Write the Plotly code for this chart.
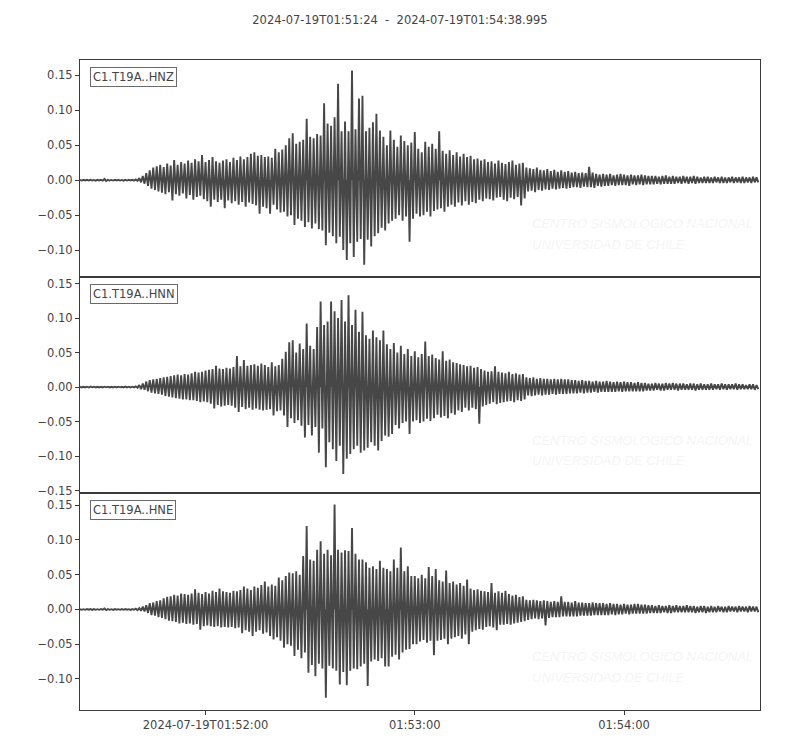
"""
Three-component strong-motion record, station C1.T19A (HNZ / HNN / HNE).

Amplitudes are stored as the peak (max / min) reached in consecutive
1-second windows, in units of 1e-3, read off the plotted record.
"""
import pandas as pd
import plotly.graph_objects as go
from plotly.subplots import make_subplots

START = "2024-07-19T01:51:24"
END = "2024-07-19T01:54:38.995"
BIN_SECONDS = 1

CHANNELS = ["C1.T19A..HNZ", "C1.T19A..HNN", "C1.T19A..HNE"]

hnz_max = [
    0.4, 0.5, 0.5, 0.6, 0.4, 0.5, 0.5, 2, 0.5, 0.4,
    0.5, 0.6, 0.4, 0.5, 0.5, 0.6, 1, 3, 6, 10,
    14, 18, 20, 22, 19, 24, 21, 29, 22, 26,
    24, 28, 25, 30, 27, 36, 26, 29, 33, 27,
    25, 28, 30, 26, 32, 29, 34, 30, 33, 38,
    40, 35, 36, 33, 34, 32, 45, 40, 44, 50,
    60, 67, 52, 55, 58, 88, 62, 60, 66, 64,
    110, 81, 78, 90, 138, 70, 84, 70, 157, 73,
    117, 121, 70, 75, 83, 95, 71, 62, 50, 71,
    58, 48, 64, 56, 50, 54, 69, 45, 40, 55,
    48, 52, 45, 70, 42, 38, 43, 36, 40, 34,
    38, 33, 35, 30, 31, 28, 30, 26, 27, 24,
    28, 25, 23, 26, 28, 22, 24, 25, 18, 17,
    16, 18, 15, 14, 16, 13, 15, 12, 14, 12,
    13, 11, 12, 10, 11, 10, 19, 11, 9, 8,
    9, 8, 9, 7, 8, 9, 8, 7, 8, 7,
    7, 8, 7, 6, 6, 6, 5, 6, 7, 5,
    6, 5, 5, 6, 5, 5, 6, 5, 4, 5,
    5, 4, 5, 4, 5, 4, 4, 5, 4, 4,
    5, 4, 4, 5, 4,
]
hnz_min = [
    -0.5, -0.4, -0.5, -0.5, -0.6, -0.4, -0.5, -1, -0.5, -0.5,
    -0.4, -0.5, -0.6, -0.5, -0.4, -0.5, -1, -3, -5, -8,
    -12, -14, -16, -18, -20, -17, -29, -20, -22, -19,
    -26, -21, -28, -24, -22, -27, -30, -38, -28, -31,
    -28, -40, -29, -33, -30, -35, -31, -38, -32, -34,
    -36, -48, -38, -40, -48, -35, -42, -46, -45, -52,
    -50, -64, -55, -58, -67, -60, -69, -62, -70, -72,
    -93, -75, -80, -90, -81, -100, -114, -90, -110, -88,
    -84, -121, -85, -95, -80, -76, -68, -72, -62, -58,
    -55, -50, -58, -52, -88, -55, -48, -52, -50, -45,
    -52, -44, -42, -40, -45, -38, -35, -38, -32, -36,
    -30, -35, -31, -33, -28, -30, -26, -27, -29, -25,
    -24, -28, -30, -25, -27, -24, -36, -26, -16, -15,
    -17, -14, -15, -13, -14, -12, -13, -12, -11, -12,
    -11, -10, -10, -11, -9, -10, -10, -11, -8, -9,
    -8, -8, -7, -8, -7, -7, -7, -8, -6, -7,
    -6, -7, -6, -6, -6, -5, -6, -5, -5, -5,
    -5, -4, -5, -4, -5, -4, -5, -4, -4, -4,
    -4, -4, -3, -4, -4, -4, -3, -4, -3, -4,
    -4, -3, -4, -3, -3,
]

hnn_max = [
    0.5, 0.4, 0.5, 0.6, 0.5, 0.4, 0.5, 0.5, 0.6, 0.4,
    0.5, 0.5, 0.4, 0.6, 0.5, 0.5, 1, 3, 5, 8,
    10, 11, 12, 13, 14, 15, 16, 17, 18, 17,
    19, 18, 20, 22, 21, 22, 24, 25, 26, 31,
    27, 26, 28, 27, 29, 45, 30, 39, 31, 32,
    33, 31, 34, 32, 29, 36, 30, 32, 41, 51,
    65, 68, 50, 63, 55, 92, 60, 55, 87, 124,
    90, 95, 124, 110, 100, 126, 95, 133, 90, 112,
    80, 109, 75, 70, 82, 72, 68, 82, 62, 55,
    64, 50, 60, 48, 55, 45, 52, 43, 48, 66,
    45, 47, 42, 40, 52, 38, 40, 36, 35, 33,
    32, 30, 31, 28, 29, 26, 24, 22, 23, 30,
    22, 21, 20, 22, 19, 20, 18, 19, 14, 13,
    14, 12, 13, 12, 12, 11, 12, 11, 12, 11,
    11, 10, 10, 9, 10, 9, 9, 8, 9, 8,
    8, 9, 8, 7, 8, 7, 8, 7, 7, 6,
    7, 6, 6, 5, 5, 6, 5, 5, 6, 5,
    6, 5, 5, 5, 4, 5, 5, 4, 5, 4,
    4, 5, 4, 4, 5, 4, 4, 4, 5, 4,
    4, 3, 4, 4, 3,
]
hnn_min = [
    -0.5, -0.5, -0.6, -0.4, -0.5, -0.5, -0.6, -0.4, -0.5, -0.5,
    -0.6, -0.4, -0.5, -0.5, -0.6, -0.4, -1, -3, -4, -6,
    -8, -9, -10, -11, -13, -14, -15, -16, -17, -18,
    -18, -19, -19, -20, -22, -21, -22, -24, -31, -26,
    -28, -27, -26, -27, -30, -36, -29, -32, -30, -33,
    -31, -33, -34, -33, -32, -41, -35, -34, -41, -58,
    -45, -52, -48, -56, -73, -55, -70, -58, -95, -60,
    -116, -80, -90, -107, -85, -126, -104, -97, -90, -85,
    -95, -92, -88, -80, -85, -92, -78, -70, -72, -68,
    -55, -60, -52, -50, -68, -50, -48, -52, -50, -46,
    -49, -45, -40, -44, -42, -45, -38, -40, -34, -36,
    -30, -34, -30, -32, -53, -28, -26, -24, -22, -25,
    -23, -22, -21, -20, -22, -19, -20, -18, -12, -13,
    -12, -11, -12, -11, -11, -10, -11, -10, -10, -10,
    -9, -9, -9, -8, -9, -8, -8, -7, -8, -7,
    -7, -7, -7, -7, -6, -7, -6, -6, -6, -6,
    -6, -6, -5, -5, -5, -4, -5, -5, -4, -4,
    -4, -5, -4, -4, -4, -4, -5, -4, -4, -4,
    -4, -4, -3, -4, -3, -4, -3, -3, -4, -3,
    -3, -3, -3, -4, -3,
]

hne_max = [
    0.5, 0.4, 0.5, 0.5, 0.6, 0.4, 0.5, 1.5, 0.5, 0.4,
    0.5, 0.4, 0.5, 0.6, 0.4, 0.5, 1, 2, 4, 6,
    9, 10, 12, 13, 16, 18, 19, 21, 20, 23,
    22, 21, 23, 29, 24, 22, 25, 23, 27, 25,
    30, 26, 25, 24, 27, 26, 28, 33, 30, 28,
    33, 31, 35, 40, 33, 36, 34, 46, 42, 48,
    53, 52, 55, 50, 77, 120, 72, 70, 86, 98,
    80, 86, 78, 151, 86, 82, 85, 84, 117, 80,
    72, 72, 68, 60, 62, 58, 70, 60, 58, 55,
    72, 60, 89, 55, 62, 48, 48, 45, 50, 45,
    61, 48, 58, 42, 40, 56, 38, 40, 36, 38,
    34, 43, 30, 28, 29, 27, 26, 25, 38, 24,
    26, 24, 27, 22, 20, 21, 18, 19, 14, 13,
    14, 13, 12, 13, 12, 11, 12, 11, 19, 11,
    11, 10, 12, 10, 10, 9, 9, 10, 9, 9,
    9, 8, 9, 8, 8, 7, 8, 7, 7, 8,
    8, 7, 7, 6, 6, 5, 6, 5, 5, 6,
    5, 6, 5, 5, 6, 5, 5, 4, 5, 5,
    4, 5, 4, 5, 4, 4, 5, 4, 4, 5,
    4, 4, 5, 4, 4,
]
hne_min = [
    -0.5, -0.5, -0.4, -0.6, -0.5, -0.5, -0.4, -1, -0.5, -0.6,
    -0.4, -0.5, -0.5, -0.4, -0.6, -0.5, -1, -2, -3, -5,
    -8, -9, -11, -12, -14, -16, -17, -18, -20, -19,
    -21, -20, -22, -21, -29, -24, -23, -24, -25, -24,
    -26, -25, -26, -25, -27, -26, -34, -30, -32, -38,
    -32, -30, -35, -33, -38, -43, -40, -45, -55, -50,
    -52, -67, -58, -70, -62, -91, -80, -96, -78, -85,
    -127, -81, -85, -88, -108, -90, -109, -88, -85, -86,
    -82, -78, -110, -75, -72, -74, -70, -82, -82, -68,
    -65, -72, -62, -58, -57, -50, -50, -46, -44, -48,
    -45, -66, -45, -44, -42, -50, -42, -40, -38, -42,
    -36, -50, -32, -30, -28, -29, -25, -24, -26, -30,
    -22, -22, -21, -22, -20, -19, -18, -17, -15, -14,
    -13, -14, -13, -23, -12, -11, -11, -11, -10, -10,
    -10, -10, -10, -9, -9, -9, -9, -8, -8, -8,
    -8, -8, -7, -8, -7, -7, -6, -7, -6, -6,
    -6, -6, -6, -5, -5, -5, -5, -4, -5, -5,
    -4, -4, -4, -4, -4, -4, -5, -4, -4, -5,
    -4, -4, -4, -3, -4, -4, -3, -3, -4, -3,
    -3, -4, -3, -3, -4,
]

y_ranges = [(-0.138, 0.172), (-0.154, 0.160), (-0.1446, 0.167)]
y_ticks = [
    [-0.10, -0.05, 0.00, 0.05, 0.10, 0.15],
    [-0.15, -0.10, -0.05, 0.00, 0.05, 0.10, 0.15],
    [-0.10, -0.05, 0.00, 0.05, 0.10, 0.15],
]
x_tickvals = ["2024-07-19 01:52:00", "2024-07-19 01:53:00", "2024-07-19 01:54:00"]
x_ticktext = ["2024-07-19T01:52:00", "01:53:00", "01:54:00"]

_TRACE = "#474747"
_AXIS = "#3a3a3a"
_TEXT = "#444444"
_FONT = "DejaVu Sans"


def _zigzag(upper, lower):
    """Alternate each window's max and min so the trace swings like a record."""
    t0 = pd.Timestamp(START)
    xs, ys = [], []
    for i, (hi, lo) in enumerate(zip(upper, lower)):
        xs.append(t0 + pd.Timedelta(seconds=i * BIN_SECONDS))
        ys.append(hi / 1000)
        xs.append(t0 + pd.Timedelta(seconds=i * BIN_SECONDS + BIN_SECONDS / 2))
        ys.append(lo / 1000)
    return xs, ys


series = [(hnz_max, hnz_min), (hnn_max, hnn_min), (hne_max, hne_min)]

fig = make_subplots(rows=3, cols=1, shared_xaxes=True, vertical_spacing=0)

for row, ((upper, lower), name) in enumerate(zip(series, CHANNELS), start=1):
    xs, ys = _zigzag(upper, lower)
    fig.add_trace(
        go.Scatter(
            x=xs, y=ys, mode="lines", name=name,
            line=dict(color=_TRACE, width=1.9),
            fill="tozeroy", fillcolor=_TRACE,
            showlegend=False, hoverinfo="skip",
        ),
        row=row, col=1,
    )
    lo, hi = y_ranges[row - 1]
    fig.update_yaxes(
        range=[lo, hi], tickvals=y_ticks[row - 1], tickformat=".2f",
        ticks="outside", ticklen=4, tickcolor=_AXIS,
        showline=True, linecolor=_AXIS, linewidth=1, mirror=True,
        showgrid=False, zeroline=False,
        tickfont=dict(family=_FONT, size=11.5, color=_TEXT),
        row=row, col=1,
    )
    fig.update_xaxes(
        type="date", range=[START.replace("T", " "), END.replace("T", " ")],
        showline=True, linecolor=_AXIS, linewidth=1, mirror=True,
        showgrid=False, zeroline=False,
        ticks="outside" if row == 3 else "", ticklen=4, tickcolor=_AXIS,
        tickvals=x_tickvals, ticktext=x_ticktext,
        showticklabels=(row == 3),
        tickfont=dict(family=_FONT, size=11.5, color=_TEXT),
        row=row, col=1,
    )

    ax = "" if row == 1 else str(row)
    # station label box
    fig.add_annotation(
        text=name, x=0.0147, y=0.968, xref=f"x{ax} domain", yref=f"y{ax} domain",
        xanchor="left", yanchor="top", showarrow=False,
        font=dict(family=_FONT, size=11.5, color=_TEXT),
        bgcolor="white", bordercolor="#6a6a6a", borderwidth=1, borderpad=2,
    )
    # faint CSN watermark
    for text, yy in [("CENTRO SISMOLÓGICO NACIONAL", 0.245),
                     ("UNIVERSIDAD DE CHILE", 0.150)]:
        fig.add_annotation(
            text=text, x=0.662, y=yy, xref=f"x{ax} domain", yref=f"y{ax} domain",
            xanchor="left", yanchor="middle", showarrow=False,
            font=dict(family="Liberation Sans", size=13, color="#f5f5f5",
                      style="italic"),
        )

# the page body adds an 8px offset, so margins are shifted to compensate
fig.update_layout(
    width=800, height=750,
    margin=dict(l=72, r=48, t=52, b=48),
    paper_bgcolor="white", plot_bgcolor="white",
    title=dict(
        text=f"{START}\u00a0\u00a0-\u00a0\u00a0{END}",
        x=0.49, xref="container", xanchor="center",
        y=0.984, yref="container", yanchor="middle",
        font=dict(family=_FONT, size=11.5, color=_TEXT),
    ),
)

fig.write_html("out.html")
